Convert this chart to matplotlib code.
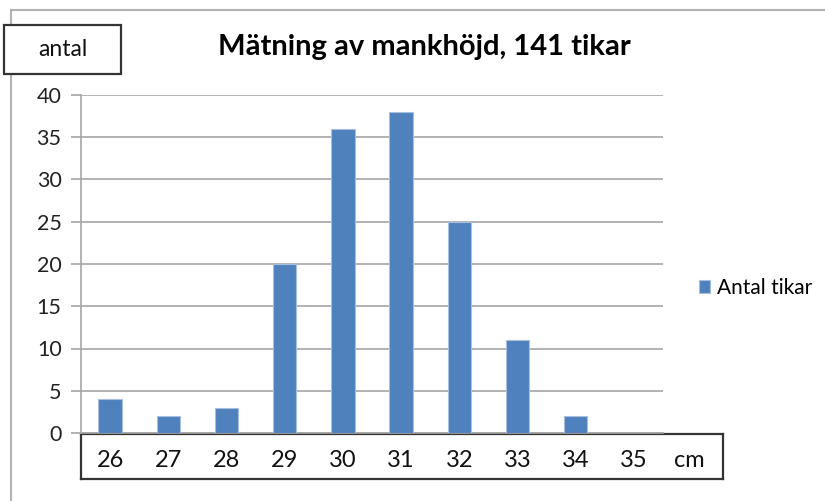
import matplotlib
matplotlib.use("Agg")
import matplotlib.pyplot as plt
from matplotlib.patches import Rectangle
from matplotlib.lines import Line2D
import numpy as np

plt.rcParams['font.family'] = ['Lato', 'DejaVu Sans']

# data
heights = ['26', '27', '28', '29', '30', '31', '32', '33', '34', '35']
antal_tikar = [4, 2, 3, 20, 36, 38, 25, 11, 2, 0]
y_ticks = [0, 5, 10, 15, 20, 25, 30, 35, 40]

W, H = 825, 501
fig = plt.figure(figsize=(W / 100, H / 100), dpi=100)

def fx(px):
    return px / W

def fy(py):
    return 1 - py / H

# boxed strip for the x labels
bx = fig.add_axes([fx(81), fy(479), fx(723 - 81), (479 - 434) / H])
bx.set_xticks([])
bx.set_yticks([])
for s in bx.spines.values():
    s.set_color('#333333')
    s.set_linewidth(1.6)

# plot area
left, right, top, bottom = 81, 663, 95, 433
ax = fig.add_axes([fx(left), fy(bottom), fx(right - left), (bottom - top) / H])

x = np.arange(len(heights))
ax.bar(x, antal_tikar, width=0.4, color='#4f81bd', edgecolor='#a7bfde',
       linewidth=0.8, zorder=3, label='Antal tikar')

ax.set_xlim(-0.5, len(heights) - 0.5)
ax.set_ylim(0, 40)
ax.set_yticks(y_ticks)
ax.yaxis.grid(True, color='#a6a6a6', linewidth=1.2, zorder=0)
ax.set_axisbelow(True)
for s in ['top', 'right']:
    ax.spines[s].set_visible(False)
ax.spines['left'].set_color('#a6a6a6')
ax.spines['left'].set_linewidth(1.2)
ax.spines['bottom'].set_color('#a6a6a6')
ax.spines['bottom'].set_linewidth(1.2)
ax.tick_params(axis='y', length=7, width=1.2, color='#a6a6a6', pad=7,
               labelsize=15.5, labelcolor='#222222')

# x labels written inside the box strip
ax.set_xticks([])
xt = ax.get_xaxis_transform()
for xi, lab in zip(x, heights):
    ax.text(xi, -0.08, lab, transform=xt, ha='center', va='center',
            fontsize=17, color='#111111', clip_on=False)
ax.text(9.95, -0.08, 'cm', transform=xt, ha='center', va='center',
        fontsize=17, color='#111111', clip_on=False)

# outer chart border (top and left visible)
fig.lines.append(Line2D([fx(11), fx(11)], [fy(10), 0], transform=fig.transFigure,
                        color='#b3b3b3', linewidth=1.5))
fig.lines.append(Line2D([fx(11), 1], [fy(10), fy(10)], transform=fig.transFigure,
                        color='#b3b3b3', linewidth=1.5))

# y-axis label box
fig.patches.append(Rectangle((fx(4), fy(74)), fx(121 - 4), (74 - 25) / H,
                             transform=fig.transFigure, facecolor='white',
                             edgecolor='#333333', linewidth=1.6, zorder=2))
fig.text(fx(63), fy(50), 'antal', ha='center', va='center', fontsize=16.5,
         color='#111111', zorder=3)

fig.text(fx(424), fy(47), 'Mätning av mankhöjd, 141 tikar', ha='center',
         va='center', fontsize=21, fontweight='bold', color='black')

fig.legend(loc='center left', bbox_to_anchor=(fx(699), fy(288)), frameon=False,
           fontsize=15, handlelength=0.55, handleheight=0.55, handletextpad=0.3,
           borderpad=0, borderaxespad=0)

fig.savefig('out.png', dpi=100)
